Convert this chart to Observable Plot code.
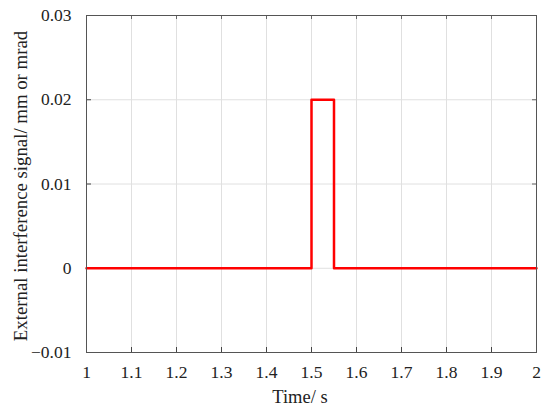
<!DOCTYPE html>
<html><head><meta charset="utf-8">
<script src="https://cdn.jsdelivr.net/npm/d3@7"></script>
<script src="https://cdn.jsdelivr.net/npm/@observablehq/plot@0.6"></script>
<style>body{margin:0;background:#fff;} svg{display:block;} svg text{font-family:'Liberation Serif','Times New Roman',serif !important;}</style>
</head><body><div id="chart"></div>
<script>
const times = [1, 1.5, 1.5, 1.55, 1.55, 2];
const signal = [0, 0, 0.02, 0.02, 0, 0];
const xTicks = [1, 1.1, 1.2, 1.3, 1.4, 1.5, 1.6, 1.7, 1.8, 1.9, 2];
const yTicks = [-0.01, 0, 0.01, 0.02, 0.03];
const xLabel = "Time/ s";
const yLabel = "External interference signal/ mm or mrad";

const data = times.map((t, i) => ({t, v: signal[i]}));
const font = "'Liberation Serif', 'Times New Roman', serif";
const fmtX = d => String(+d.toFixed(2));
const fmtY = d => d < 0 ? "\u2212" + String(+(-d).toFixed(3)) : String(+d.toFixed(3));

const chart = Plot.plot({
  width: 550, height: 413,
  marginLeft: 86, marginRight: 14, marginTop: 15, marginBottom: 61,
  style: {fontFamily: font, fontSize: "16px", color: "#222", background: "#fff"},
  x: {domain: [1, 2], ticks: xTicks},
  y: {domain: [-0.01, 0.03], ticks: yTicks},
  marks: [
    Plot.gridX(xTicks, {stroke: "#e0e0e0", strokeOpacity: 1}),
    Plot.gridY(yTicks, {stroke: "#e0e0e0", strokeOpacity: 1}),
    Plot.ruleX(xTicks, {x: d => d, y1: () => -0.01, y2: () => -0.01, insetTop: -5, stroke: "#444"}),
    Plot.ruleX(xTicks, {x: d => d, y1: () => 0.03, y2: () => 0.03, insetBottom: -4, stroke: "#666"}),
    Plot.ruleY(yTicks, {y: d => d, x1: () => 1, x2: () => 1, insetRight: -5, stroke: "#444"}),
    Plot.ruleY(yTicks, {y: d => d, x1: () => 2, x2: () => 2, insetLeft: -4, stroke: "#666"}),
    Plot.axisX(xTicks, {tickSize: 0, tickPadding: 13, tickFormat: fmtX, fontSize: 17.5, fontFamily: font, fill: "#222", label: null}),
    Plot.axisY(yTicks, {tickSize: 0, tickPadding: 15, tickFormat: fmtY, fontSize: 17.5, fontFamily: font, fill: "#222", label: null}),
    Plot.line(data, {x: "t", y: "v", stroke: "#ff0000", strokeWidth: 2.5}),
    Plot.frame({stroke: "#555", strokeWidth: 1})
  ]
});

const svg = d3.select(chart);
svg.append("text").attr("x", 300).attr("y", 403).attr("text-anchor", "middle")
  .attr("font-size", 18.5).attr("fill", "#222").text(xLabel);
svg.append("text").attr("transform", `translate(27,186) rotate(-90)`).attr("text-anchor", "middle")
  .attr("font-size", 18.8).attr("fill", "#222").text(yLabel);
document.getElementById("chart").appendChild(chart);
</script></body></html>
